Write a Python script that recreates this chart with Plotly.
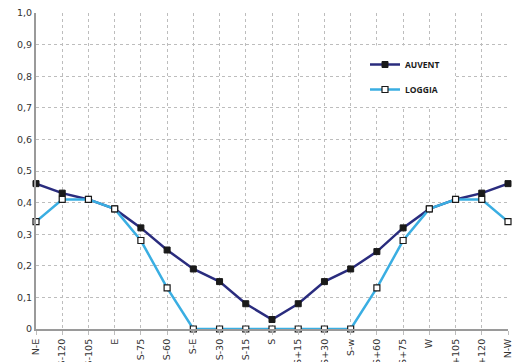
import plotly.graph_objects as go

categories = ["N-E", "S-120", "S-105", "E", "S-75", "S-60", "S-E", "S-30", "S-15", "S",
              "S+15", "S+30", "S-w", "S+60", "S+75", "W", "S+105", "S+120", "N-W"]
auvent = [0.46, 0.43, 0.41, 0.38, 0.32, 0.25, 0.19, 0.15, 0.08, 0.03,
          0.08, 0.15, 0.19, 0.245, 0.32, 0.38, 0.41, 0.43, 0.46]
loggia = [0.34, 0.41, 0.41, 0.38, 0.28, 0.13, 0.0, 0.0, 0.0, 0.0,
          0.0, 0.0, 0.0, 0.13, 0.28, 0.38, 0.41, 0.41, 0.34]
y_ticks = [0, 0.1, 0.2, 0.3, 0.4, 0.5, 0.6, 0.7, 0.8, 0.9, 1.0]
y_ticktext = ["0", "0,1", "0,2", "0,3", "0,4", "0,5", "0,6", "0,7", "0,8", "0,9", "1,0"]

fig = go.Figure()
fig.add_trace(go.Scatter(
    x=categories, y=auvent, name="AUVENT", mode="lines+markers",
    line=dict(color="#2a2c7e", width=2.5),
    marker=dict(symbol="square", size=6, color="#1a1a1a", line=dict(color="#1a1a1a", width=1)),
    legendgroup="a", cliponaxis=False,
))
fig.add_trace(go.Scatter(
    x=categories, y=loggia, name="LOGGIA", mode="lines+markers",
    line=dict(color="#3aaee2", width=2.5),
    marker=dict(symbol="square", size=6, color="white", line=dict(color="#1a1a1a", width=1.2)),
    legendgroup="b", cliponaxis=False,
))

# white area behind legend
fig.add_shape(type="rect", xref="paper", yref="y",
              x0=(352 - 36) / 472, x1=(455 - 36) / 472, y0=0.703, y1=0.897,
              fillcolor="white", line=dict(width=0), layer="above")

fig.update_layout(
    width=516, height=362,
    margin=dict(l=36, r=8, t=13, b=33),
    paper_bgcolor="white", plot_bgcolor="white",
    font=dict(family="DejaVu Sans", size=9.5, color="#333333"),
    showlegend=True,
    legend=dict(x=(365 - 36) / 472, y=(329 - 50) / 316, xanchor="left", yanchor="top",
                bgcolor="rgba(0,0,0,0)", tracegroupgap=6,
                font=dict(family="Open Sans", size=8.5, color="#1a1a1a", weight="bold")),
    xaxis=dict(
        type="category", range=[0, 18], showgrid=True, automargin=False,
        gridcolor="#bdbdbd", griddash="3px,3px", gridwidth=1,
        showline=True, linecolor="#9a9a9a", linewidth=2,
        ticks="outside", ticklen=4, tickcolor="#bdbdbd",
        tickangle=-90, tickfont=dict(size=9.5, color="#333333"),
        zeroline=False,
    ),
    yaxis=dict(
        range=[0, 1.0], tickvals=y_ticks, ticktext=y_ticktext, automargin=False,
        showgrid=True, gridcolor="#bdbdbd", griddash="3px,3px", gridwidth=1,
        showline=True, linecolor="#9a9a9a", linewidth=2,
        ticks="", tickfont=dict(size=9.5, color="#333333"),
        zeroline=False,
    ),
)

fig.write_html("out.html", config={"displayModeBar": False},
               post_script="document.body.style.margin='0';")
